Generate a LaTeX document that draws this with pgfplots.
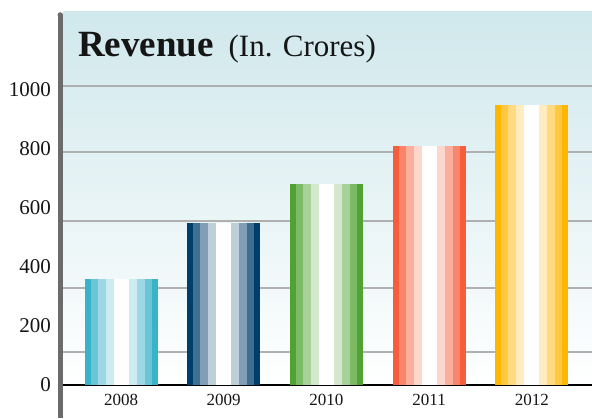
\documentclass[border=0pt]{standalone}
\usepackage{fontspec}
\setmainfont{Liberation Serif}
\usepackage{pgfplots}
\pgfplotsset{compat=1.18}

\definecolor{c08}{HTML}{38B3C8}
\definecolor{c09}{HTML}{003E6B}
\definecolor{c10}{HTML}{50A332}
\definecolor{c11}{HTML}{F65E3B}
\definecolor{c12}{HTML}{FFB600}
\definecolor{bgtop}{HTML}{D0E8EC}
\definecolor{bgmid}{HTML}{E4F1F4}
\definecolor{gridc}{HTML}{B0B0B0}
\definecolor{axisgray}{HTML}{6B6B6B}
\definecolor{txt}{HTML}{151515}

% one striped bar: x position, value, base colour
\newcommand\stripebar[3]{%
  \addplot[ybar, bar shift=0pt, bar width=0.711, fill=#3, draw=none] coordinates {(#1,#2)};
  \addplot[ybar, bar shift=0pt, bar width=0.594, fill=#3!75!white, draw=none] coordinates {(#1,#2)};
  \addplot[ybar, bar shift=0pt, bar width=0.458, fill=#3!50!white, draw=none] coordinates {(#1,#2)};
  \addplot[ybar, bar shift=0pt, bar width=0.302, fill=#3!25!white, draw=none] coordinates {(#1,#2)};
  \addplot[ybar, bar shift=0pt, bar width=0.146, fill=white, draw=none] coordinates {(#1,#2)};
}

\begin{document}
\begin{tikzpicture}
\path[use as bounding box] (0,0) rectangle (592pt,418pt);
\begin{axis}[
  at={(63pt,33pt)}, anchor=south west,
  scale only axis, width=529pt, height=373pt,
  xmin=-0.565, xmax=4.586, ymin=0, ymax=1264,
  axis x line*=bottom, axis y line*=left,
  x axis line style={black, line width=2pt, -},
  y axis line style={draw=none},
  xtick={0,...,4}, xticklabels={2008,2009,2010,2011,2012},
  ytick={0,200,...,1000}, yticklabels={0,200,400,600,800,1000},
  major tick length=0pt,
  yticklabel style={font=\fontsize{21}{24}\selectfont, text=txt, inner sep=0pt, xshift=-12pt, anchor=east},
  xticklabel style={font=\fontsize{17}{20}\selectfont, text=txt, inner sep=0pt, yshift=-9pt, anchor=north},
  extra y ticks={112,329,556,790,1014},
  extra y tick labels={},
  extra y tick style={grid=major, major grid style={gridc, line width=2pt}},
  axis background/.style={top color=bgtop, middle color=bgmid, bottom color=white},
]
\stripebar{0}{360}{c08}
\stripebar{1}{550}{c09}
\stripebar{2}{680}{c10}
\stripebar{3}{810}{c11}
\stripebar{4}{950}{c12}
\end{axis}
\fill[axisgray] (57.5pt,0) rectangle (63pt,403pt);
\fill[axisgray] (60.25pt,403pt) circle (2.75pt);
\node[anchor=base west, inner sep=0pt, text=txt] at (78pt,361pt)
  {\fontsize{37}{40}\selectfont\bfseries Revenue\hspace{0.4em}\fontsize{31}{34}\selectfont\mdseries (In. Crores)};
\end{tikzpicture}
\end{document}
